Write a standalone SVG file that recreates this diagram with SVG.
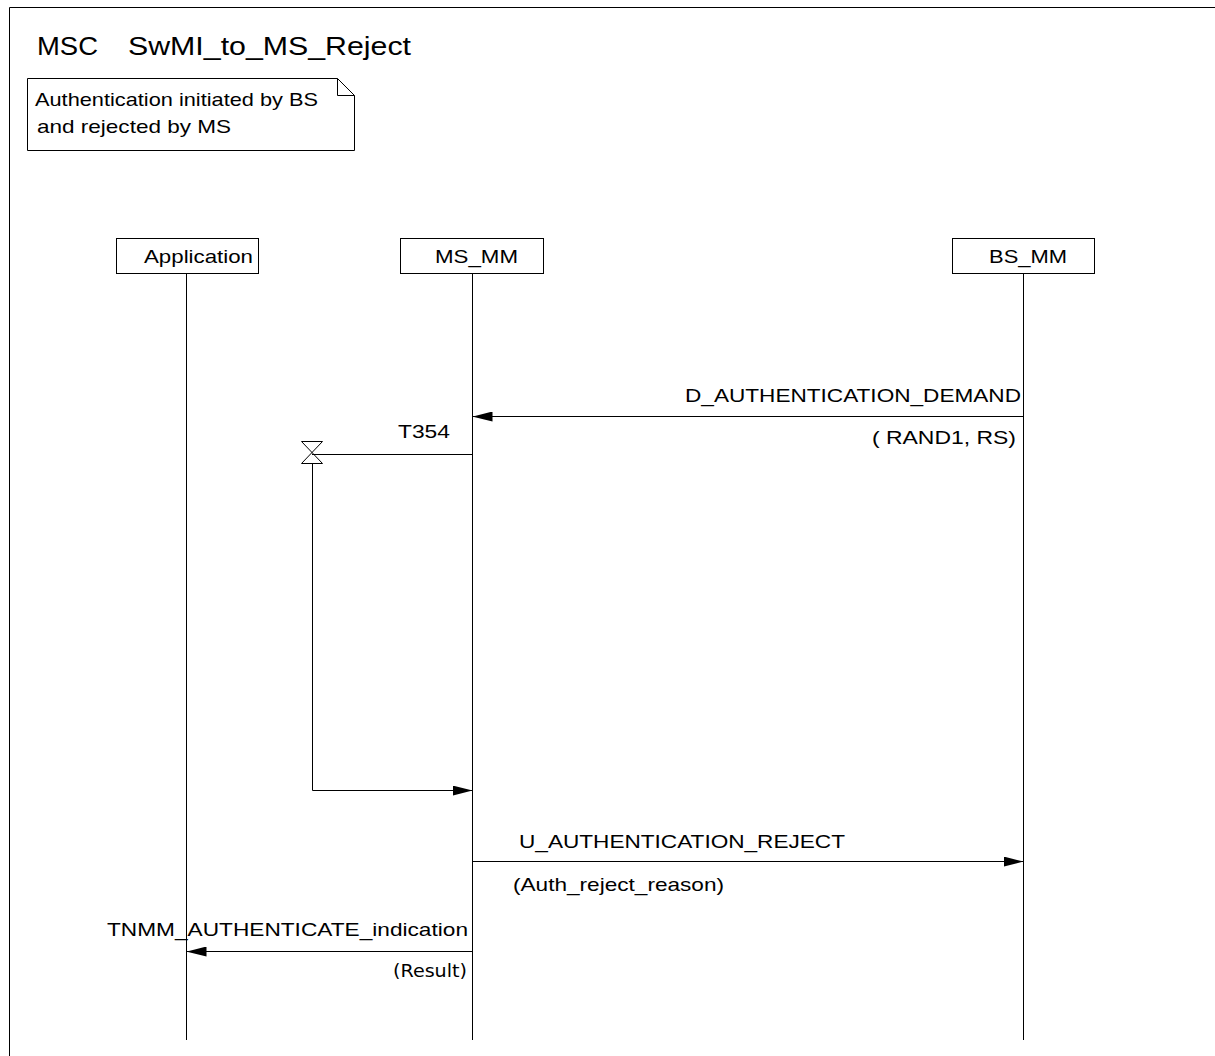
<svg xmlns="http://www.w3.org/2000/svg" width="1215" height="1056" viewBox="0 0 1215 1056">
<style>
text{font-family:"Liberation Sans",Arial,sans-serif;font-size:19px;fill:#000}
.ln{stroke:#000;stroke-width:1;fill:none}
.box{stroke:#000;stroke-width:1;fill:#fff}
</style>
<defs>
<marker id="ah" viewBox="0 0 20 10" refX="20" refY="5" markerWidth="20" markerHeight="10" markerUnits="userSpaceOnUse" orient="auto">
<path d="M0,0 L20,5 L0,10 Z" fill="#000"/>
</marker>
</defs>
<rect width="1215" height="1056" fill="#fff"/>
<g id="frame">
<path class="ln" d="M9.5,1056 V7.5 H1215"/>
<text x="37" y="55" style="font-size:25px" textLength="61" lengthAdjust="spacingAndGlyphs">MSC</text>
<text x="128" y="55" style="font-size:25px" textLength="283" lengthAdjust="spacingAndGlyphs">SwMI_to_MS_Reject</text>
</g>
<g id="note">
<path class="box" d="M27.5,78.5 H337.5 L354.5,95.5 V150.5 H27.5 Z"/>
<path class="ln" d="M337.5,78.5 V95.5 H354.5"/>
<text x="35" y="106" textLength="283" lengthAdjust="spacingAndGlyphs">Authentication initiated by BS</text>
<text x="37" y="133" textLength="194" lengthAdjust="spacingAndGlyphs">and rejected by MS</text>
</g>
<g id="application">
<rect class="box" x="116.5" y="238.5" width="142" height="35"/>
<text x="144" y="263" textLength="109" lengthAdjust="spacingAndGlyphs">Application</text>
<line class="ln" x1="186.5" y1="273.5" x2="186.5" y2="1040"/>
</g>
<g id="ms_mm">
<rect class="box" x="400.5" y="238.5" width="143" height="35"/>
<text x="435" y="263" textLength="83" lengthAdjust="spacingAndGlyphs">MS_MM</text>
<line class="ln" x1="472.5" y1="273.5" x2="472.5" y2="1040"/>
</g>
<g id="bs_mm">
<rect class="box" x="952.5" y="238.5" width="142" height="35"/>
<text x="989" y="263" textLength="78" lengthAdjust="spacingAndGlyphs">BS_MM</text>
<line class="ln" x1="1023.5" y1="273.5" x2="1023.5" y2="1040"/>
</g>
<g id="timer">
<path class="ln" d="M301.5,441.5 H322.5 L301.5,463.5 H322.5 Z"/>
<text x="398" y="438" textLength="52" lengthAdjust="spacingAndGlyphs">T354</text>
</g>
<g id="connectors">
<line class="ln" x1="1023.5" y1="416.5" x2="472.5" y2="416.5" marker-end="url(#ah)"/>
<text x="685" y="402" textLength="336" lengthAdjust="spacingAndGlyphs">D_AUTHENTICATION_DEMAND</text>
<text x="872" y="444" textLength="144" lengthAdjust="spacingAndGlyphs">( RAND1, RS)</text>
<line class="ln" x1="472.5" y1="454.5" x2="312" y2="454.5"/>
<path class="ln" d="M312.5,463.5 V790.5 H472.5" marker-end="url(#ah)"/>
<line class="ln" x1="472.5" y1="861.5" x2="1023.5" y2="861.5" marker-end="url(#ah)"/>
<text x="519" y="848" textLength="326" lengthAdjust="spacingAndGlyphs">U_AUTHENTICATION_REJECT</text>
<text x="513" y="891" textLength="211" lengthAdjust="spacingAndGlyphs">(Auth_reject_reason)</text>
<line class="ln" x1="472.5" y1="951.5" x2="186.5" y2="951.5" marker-end="url(#ah)"/>
<text x="107" y="936" textLength="361" lengthAdjust="spacingAndGlyphs">TNMM_AUTHENTICATE_indication</text>
<text x="393" y="977" textLength="74" lengthAdjust="spacingAndGlyphs" style="font-family:'DejaVu Sans',sans-serif;font-size:17px">(Result)</text>
</g>
</svg>
